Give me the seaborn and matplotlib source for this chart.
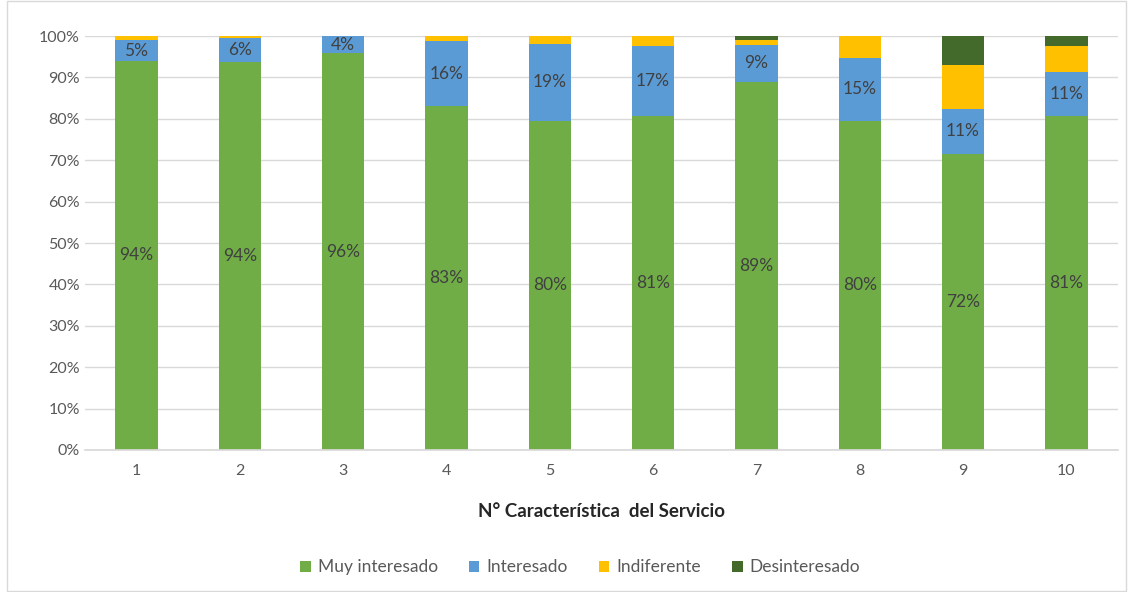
import numpy as np
import pandas as pd
import matplotlib.pyplot as plt
import seaborn as sns
from matplotlib.patches import Patch, Rectangle

# data (percent of respondents)
caracteristicas = ['1', '2', '3', '4', '5', '6', '7', '8', '9', '10']
muy_interesado = [94.0, 93.8, 95.8, 83.1, 79.6, 80.6, 88.9, 79.6, 71.6, 80.7]
interesado = [5.0, 5.7, 4.2, 15.6, 18.6, 16.9, 9.0, 15.1, 10.8, 10.6]
indiferente = [1.0, 0.5, 0.0, 1.3, 1.8, 2.5, 1.1, 5.3, 10.6, 6.2]
desinteresado = [0.0, 0.0, 0.0, 0.0, 0.0, 0.0, 1.0, 0.0, 7.0, 2.5]

series = ['Muy interesado', 'Interesado', 'Indiferente', 'Desinteresado']
colores = ['#70AD47', '#5B9BD5', '#FFC000', '#436A2B']

sns.set_theme(style='white')
plt.rcParams['font.family'] = ['Lato', 'DejaVu Sans']

fig = plt.figure(figsize=(11.31, 5.92), dpi=100)
ax = fig.add_axes([0.075, 0.24, 0.9135, 0.699])

df = pd.DataFrame({'car': caracteristicas, 'Muy interesado': muy_interesado,
                   'Interesado': interesado, 'Indiferente': indiferente,
                   'Desinteresado': desinteresado})

bottom = np.zeros(len(df))
for s, c in zip(series, colores):
    sns.barplot(data=df, x='car', y=s, bottom=bottom, color=c, width=0.41,
                saturation=1, ax=ax, linewidth=0)
    bottom = bottom + df[s].values

# data labels for the two main segments
for i in range(len(df)):
    g = df['Muy interesado'][i]
    b = df['Interesado'][i]
    ax.text(i, g / 2, f'{g:.0f}%', ha='center', va='center', fontsize=12.5, color='#404040')
    ax.text(i, g + b / 2, f'{b:.0f}%', ha='center', va='center', fontsize=12.5, color='#404040')

ax.set_ylim(0, 100)
ax.set_xlim(-0.5, 9.5)
ax.set_yticks(np.arange(0, 101, 10))
ax.set_yticklabels([f'{v}%' for v in range(0, 101, 10)])
ax.yaxis.grid(True, color='#d9d9d9', linewidth=1)
ax.set_axisbelow(True)
for sp in ['left', 'right', 'top']:
    ax.spines[sp].set_visible(False)
ax.spines['bottom'].set_color('#d9d9d9')
ax.tick_params(axis='both', length=0, labelsize=11.5, colors='#595959')
ax.tick_params(axis='x', pad=10)
ax.set_ylabel('')
ax.set_xlabel('N° Característica  del Servicio', fontsize=13.5, fontweight='bold',
              color='#262626', labelpad=18)

handles = [Patch(facecolor=c, edgecolor='none') for c in colores]
fig.legend(handles, series, loc='center', bbox_to_anchor=(0.513, 0.042), ncol=4,
           frameon=False, fontsize=12.5, handlelength=0.6, handleheight=0.6,
           handletextpad=0.4, columnspacing=1.8, labelcolor='#595959')

# chart border
fig.patches.append(Rectangle((0.006, 0.002), 0.99, 0.996, transform=fig.transFigure,
                             fill=False, edgecolor='#d9d9d9', linewidth=1))

fig.savefig('out.png', dpi=100)
